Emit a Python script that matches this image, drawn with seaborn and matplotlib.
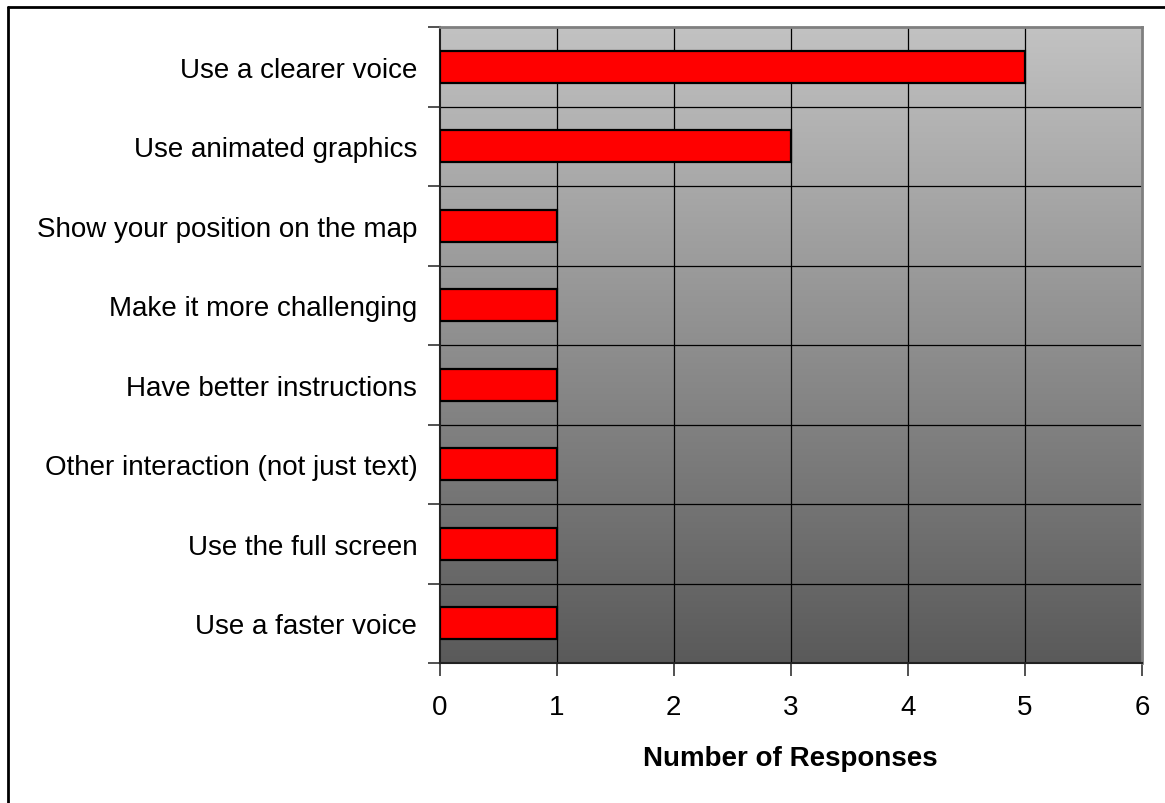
import numpy as np
import pandas as pd
import matplotlib
matplotlib.use("Agg")
import matplotlib.pyplot as plt
from matplotlib.lines import Line2D
import seaborn as sns

# Survey suggestions and how many respondents gave each one
suggestions = [
    "Use a clearer voice",
    "Use animated graphics",
    "Show your position on the map",
    "Make it more challenging",
    "Have better instructions",
    "Other interaction (not just text)",
    "Use the full screen",
    "Use a faster voice",
]
responses = [5, 3, 1, 1, 1, 1, 1, 1]
x_ticks = [0, 1, 2, 3, 4, 5, 6]

df = pd.DataFrame({"suggestion": suggestions, "responses": responses})

sns.set_theme(style="white")
plt.rcParams["font.family"] = ["Liberation Sans", "DejaVu Sans"]

W, H = 1165, 804
fig = plt.figure(figsize=(W / 100, H / 100), dpi=100)
ax = fig.add_axes([439.5 / W, 1 - 664 / H, (1142 - 439.5) / W, (664 - 28) / H])

n = len(suggestions)
FS = 20

# Vertical grey gradient behind the bars
grad = np.linspace(0, 1, 256).reshape(-1, 1)
cmap = matplotlib.colors.LinearSegmentedColormap.from_list("bg", ["#c2c2c2", "#5a5a5a"])
ax.imshow(grad, cmap=cmap, aspect="auto", extent=(0, 6, n - 0.5, -0.5),
          zorder=0, interpolation="bicubic")

sns.barplot(data=df, x="responses", y="suggestion", orient="h", color="#ff0000",
            saturation=1, width=0.4, edgecolor="black", linewidth=1.6,
            ax=ax, zorder=3)

ax.set_xlim(0, 6)
ax.set_ylim(n - 0.5, -0.5)
ax.set_xticks(x_ticks)
ax.set_xticklabels([str(t) for t in x_ticks], fontsize=FS, color="black")

# Category labels at centres, tick marks and grid at band boundaries
ax.set_yticks(range(n))
ax.set_yticklabels(suggestions, fontsize=FS, color="black")
ax.set_yticks(np.arange(-0.5, n, 1.0), minor=True)
ax.tick_params(axis="y", which="major", left=True, length=0, pad=16)
ax.tick_params(axis="y", which="minor", left=True, length=9, width=1.2,
               color="#333333", direction="out")
ax.tick_params(axis="x", which="major", bottom=True, length=9, width=1.2,
               color="#333333", direction="out", pad=13)

ax.grid(False)
for x in x_ticks[1:-1]:
    ax.axvline(x, color="black", linewidth=0.9, zorder=1)
for y in np.arange(0.5, n - 0.5, 1.0):
    ax.axhline(y, color="black", linewidth=0.9, zorder=1)

ax.set_ylabel("")
ax.set_xlabel("Number of Responses", fontsize=FS, fontweight="bold",
              color="black", labelpad=18)

for side in ["top", "right"]:
    ax.spines[side].set_color("#7f7f7f")
    ax.spines[side].set_linewidth(2)
for side in ["left", "bottom"]:
    ax.spines[side].set_color("#222222")
    ax.spines[side].set_linewidth(1.5)

# Outer chart frame
fig.add_artist(Line2D([8 / W, 8 / W], [0, 1 - 8 / H], transform=fig.transFigure,
                      color="black", linewidth=2))
fig.add_artist(Line2D([8 / W, 1], [1 - 8 / H, 1 - 8 / H], transform=fig.transFigure,
                      color="black", linewidth=2))

fig.savefig("out.png", dpi=100)
